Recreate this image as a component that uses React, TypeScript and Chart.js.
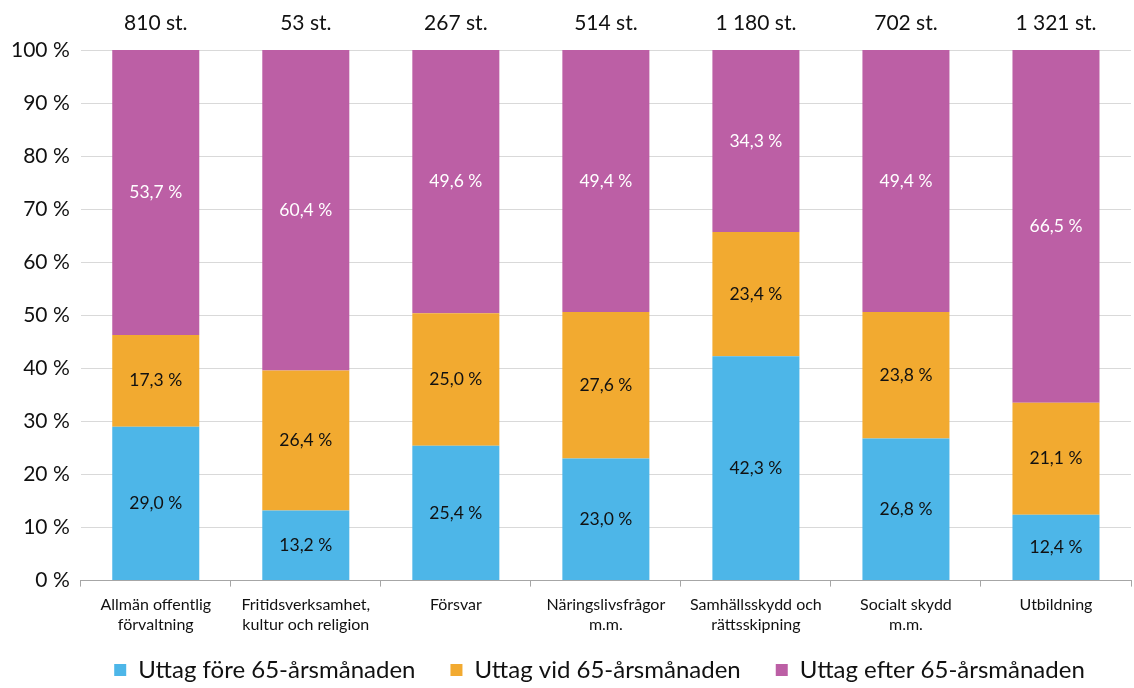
import React, { useEffect, useRef } from "react";
import { Chart, registerables } from "chart.js";

Chart.register(...registerables);

const categories: string[][] = [
  ["Allmän offentlig", "förvaltning"],
  ["Fritidsverksamhet,", "kultur och religion"],
  ["Försvar"],
  ["Näringslivsfrågor", "m.m."],
  ["Samhällsskydd och", "rättsskipning"],
  ["Socialt skydd", "m.m."],
  ["Utbildning"],
];
const totals = ["810 st.", "53 st.", "267 st.", "514 st.", "1 180 st.", "702 st.", "1 321 st."];
const before = [29.0, 13.2, 25.4, 23.0, 42.3, 26.8, 12.4];
const at = [17.3, 26.4, 25.0, 27.6, 23.4, 23.8, 21.1];
const after = [53.7, 60.4, 49.6, 49.4, 34.3, 49.4, 66.5];
const seriesNames = ["Uttag före 65-årsmånaden", "Uttag vid 65-årsmånaden", "Uttag efter 65-årsmånaden"];

const FONT = "Lato, 'Noto Sans', sans-serif";
const LEGEND_H = 45;
const LEGEND_DX = 34;
const LEGEND_DY = -20;

const fmt = (v: number) => v.toFixed(1).replace(".", ",") + " %";

export default function App() {
  const ref = useRef<HTMLCanvasElement>(null);
  useEffect(() => {
    if (!ref.current) return;
    const labelPlugin = {
      id: "labels",
      afterInit(chart: any) {
        const lg = chart.legend;
        if (lg && !lg.__patched) {
          const origFit = lg.fit.bind(lg);
          lg.fit = function () {
            origFit();
            this.height = LEGEND_H;
          };
          lg.__patched = true;
        }
      },
      afterLayout(chart: any) {
        const lg = chart.legend;
        if (lg) {
          lg.left += LEGEND_DX;
          lg.right += LEGEND_DX;
          lg.top += LEGEND_DY;
          lg.bottom = chart.height;
        }
      },
      afterDatasetsDraw(chart: any) {
        const ctx = chart.ctx;
        ctx.save();
        ctx.textAlign = "center";
        ctx.textBaseline = "middle";
        ctx.font = `17.5px ${FONT}`;
        chart.data.datasets.forEach((ds: any, di: number) => {
          const meta = chart.getDatasetMeta(di);
          meta.data.forEach((bar: any, i: number) => {
            const y = (bar.y + bar.base) / 2;
            ctx.fillStyle = di === 2 ? "#ffffff" : "#111111";
            ctx.fillText(fmt(ds.data[i]), bar.x, y);
          });
        });
        const meta0 = chart.getDatasetMeta(0);
        ctx.font = `21px ${FONT}`;
        ctx.fillStyle = "#111111";
        meta0.data.forEach((bar: any, i: number) => {
          ctx.fillText(totals[i], bar.x, chart.chartArea.top - 27);
        });
        ctx.restore();
      },
    };
    const chart = new Chart(ref.current, {
      type: "bar",
      data: {
        labels: categories,
        datasets: [
          { label: seriesNames[0], data: before, backgroundColor: "#4db6e8" },
          { label: seriesNames[1], data: at, backgroundColor: "#f2aa30" },
          { label: seriesNames[2], data: after, backgroundColor: "#bc5fa5" },
        ],
      },
      options: {
        responsive: true,
        maintainAspectRatio: false,
        animation: false,
        layout: { padding: { top: 50, right: 3, left: 0, bottom: 0 } },
        datasets: { bar: { categoryPercentage: 1, barPercentage: 0.58 } },
        plugins: {
          tooltip: { enabled: false },
          legend: {
            position: "bottom",
            labels: {
              font: { family: FONT, size: 24 },
              color: "#111111",
              boxWidth: 12,
              boxHeight: 12,
              padding: 35,
            },
          },
        },
        scales: {
          x: {
            stacked: true,
            grid: { offset: true, drawOnChartArea: false, tickLength: 6, color: "#a6a6a6" },
            border: { color: "#a6a6a6", width: 1 },
            ticks: { font: { family: FONT, size: 16 }, color: "#111111", maxRotation: 0, autoSkip: false, padding: 9 },
          },
          y: {
            stacked: true,
            min: 0,
            max: 100,
            ticks: {
              stepSize: 10,
              font: { family: FONT, size: 21 },
              color: "#111111",
              padding: 11,
              callback: (v: any) => `${v} %`,
            },
            grid: { color: "#d9d9d9", drawTicks: false },
            border: { display: false },
          },
        },
      },
      plugins: [labelPlugin],
    });
    return () => chart.destroy();
  }, []);
  return (
    <div style={{ position: "fixed", left: 0, top: 0, width: 1134, height: 688, background: "#fff" }}>
      <canvas ref={ref} />
    </div>
  );
}
